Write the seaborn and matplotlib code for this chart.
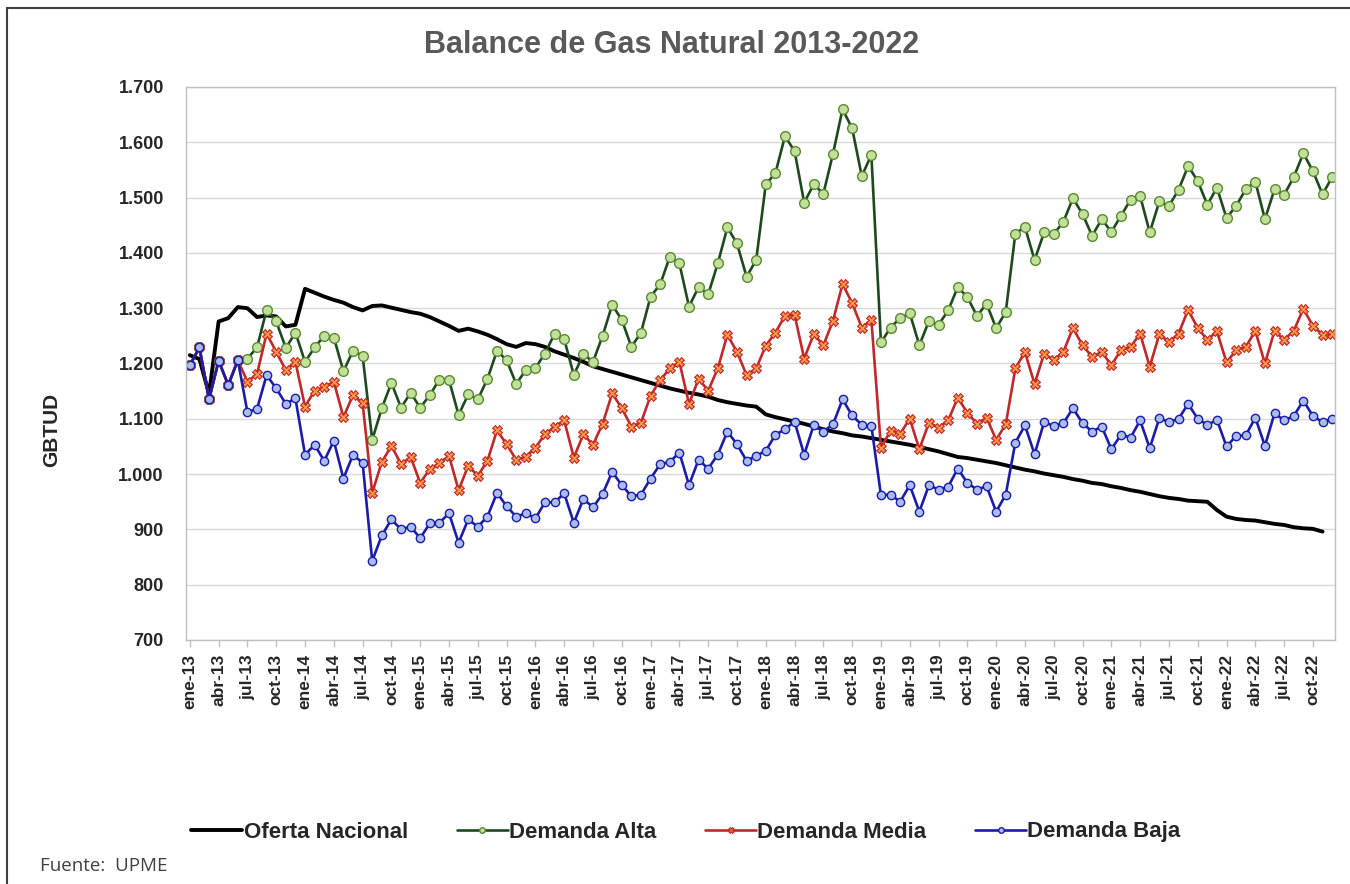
import numpy as np
import pandas as pd
import matplotlib
matplotlib.use("Agg")
import matplotlib.pyplot as plt
import matplotlib.ticker as mticker
from matplotlib.patches import Rectangle
import seaborn as sns

# monthly series, ene-13 .. dic-22 (GBTUD)
oferta_nacional = [
    1215, 1208, 1145, 1276, 1282, 1302, 1300, 1284, 1287, 1285, 1267, 1270,
    1335, 1328, 1321, 1315, 1310, 1302, 1296, 1304, 1305, 1301, 1297, 1293,
    1290, 1284, 1276, 1268, 1259, 1263, 1258, 1252, 1244, 1235, 1230, 1237,
    1235, 1230, 1222, 1216, 1210, 1203, 1195, 1190, 1185, 1180, 1175, 1170,
    1165, 1160, 1155, 1151, 1147, 1144, 1140, 1134, 1130, 1127, 1124, 1122,
    1108, 1103, 1099, 1095, 1091, 1086, 1081, 1077, 1074, 1070, 1068, 1065,
    1062, 1059, 1056, 1053, 1049, 1045, 1041, 1036, 1031, 1029, 1026, 1023,
    1020, 1016, 1012, 1008, 1005, 1001, 998, 995, 991, 988, 984, 982,
    978, 975, 971, 968, 964, 960, 957, 955, 952, 951, 950, 935,
    923, 919, 917, 916, 913, 910, 908, 904, 902, 901, 896, np.nan,
]
demanda_alta = [
    1197, 1229, 1135, 1205, 1161, 1206, 1209, 1229, 1297, 1276, 1228, 1256,
    1203, 1229, 1250, 1247, 1186, 1223, 1214, 1062, 1119, 1165, 1120, 1147,
    1120, 1143, 1171, 1170, 1107, 1144, 1135, 1172, 1223, 1206, 1163, 1188,
    1192, 1218, 1254, 1244, 1179, 1217, 1203, 1250, 1306, 1279, 1230, 1256,
    1321, 1343, 1393, 1381, 1303, 1338, 1325, 1381, 1446, 1417, 1357, 1387,
    1524, 1544, 1611, 1584, 1491, 1524, 1507, 1579, 1660, 1625, 1539, 1577,
    1238, 1265, 1282, 1291, 1233, 1277, 1270, 1296, 1338, 1320, 1286, 1308,
    1264, 1293, 1435, 1447, 1387, 1437, 1434, 1456, 1499, 1470, 1431, 1461,
    1438, 1467, 1496, 1503, 1437, 1493, 1485, 1514, 1557, 1530, 1487, 1518,
    1463, 1485, 1515, 1529, 1461, 1515, 1505, 1537, 1580, 1548, 1506, 1537,
]
demanda_media = [
    1197, 1229, 1135, 1205, 1161, 1206, 1167, 1181, 1254, 1221, 1188, 1203,
    1122, 1151, 1157, 1167, 1103, 1143, 1128, 966, 1022, 1051, 1018, 1031,
    984, 1009, 1020, 1033, 971, 1015, 997, 1024, 1079, 1054, 1026, 1031,
    1048, 1072, 1086, 1097, 1030, 1072, 1053, 1091, 1146, 1119, 1086, 1093,
    1142, 1170, 1191, 1203, 1127, 1172, 1151, 1191, 1252, 1221, 1179, 1191,
    1232, 1256, 1286, 1288, 1209, 1253, 1233, 1277, 1344, 1309, 1265, 1279,
    1048, 1078, 1073, 1100, 1045, 1093, 1084, 1097, 1138, 1111, 1091, 1102,
    1062, 1090, 1191, 1221, 1163, 1218, 1206, 1221, 1264, 1233, 1212, 1221,
    1197, 1224, 1230, 1254, 1194, 1253, 1239, 1254, 1297, 1264, 1243, 1258,
    1202, 1224, 1230, 1259, 1200, 1259, 1243, 1259, 1299, 1268, 1252, 1253,
]
demanda_baja = [
    1197, 1229, 1135, 1205, 1161, 1206, 1112, 1118, 1179, 1155, 1127, 1137,
    1035, 1053, 1024, 1060, 992, 1035, 1020, 843, 889, 918, 900, 905,
    884, 911, 912, 929, 876, 918, 905, 923, 966, 942, 923, 929,
    920, 949, 949, 965, 912, 955, 940, 964, 1004, 980, 960, 963,
    992, 1018, 1022, 1039, 980, 1026, 1010, 1035, 1077, 1054, 1024, 1033,
    1042, 1071, 1081, 1095, 1035, 1089, 1077, 1090, 1135, 1106, 1089, 1087,
    962, 963, 950, 980, 932, 980, 972, 977, 1010, 984, 972, 978,
    932, 963, 1057, 1088, 1036, 1094, 1087, 1092, 1119, 1092, 1077, 1086,
    1045, 1071, 1066, 1097, 1047, 1101, 1094, 1100, 1127, 1100, 1089, 1098,
    1050, 1069, 1070, 1102, 1051, 1110, 1097, 1105, 1133, 1105, 1094, 1100,
]
tick_labels = [
    "ene-13", "abr-13", "jul-13", "oct-13", "ene-14", "abr-14", "jul-14", "oct-14",
    "ene-15", "abr-15", "jul-15", "oct-15", "ene-16", "abr-16", "jul-16", "oct-16",
    "ene-17", "abr-17", "jul-17", "oct-17", "ene-18", "abr-18", "jul-18", "oct-18",
    "ene-19", "abr-19", "jul-19", "oct-19", "ene-20", "abr-20", "jul-20", "oct-20",
    "ene-21", "abr-21", "jul-21", "oct-21", "ene-22", "abr-22", "jul-22", "oct-22",
]

mes = np.arange(len(demanda_alta))

sns.set_style("white")
plt.rcParams["font.family"] = ["Liberation Sans", "DejaVu Sans"]

fig = plt.figure(figsize=(13.5, 8.84), dpi=100)
W, H = 1350, 884
ax = fig.add_axes([186 / W, 1 - 640 / H, (1335 - 186) / W, (640 - 87) / H])

series = [
    ("Oferta Nacional", oferta_nacional,
     dict(color="black", lw=2.8, marker=None)),
    ("Demanda Alta", demanda_alta,
     dict(color="#1d4a1d", lw=1.9, marker="o", ms=7, mfc="#c2e09a", mec="#5a8a30", mew=1.0)),
    ("Demanda Media", demanda_media,
     dict(color="#c0282a", lw=1.9, marker="X", ms=7, mfc="#f79646", mec="#c0282a", mew=0.8)),
    ("Demanda Baja", demanda_baja,
     dict(color="#1c1ca8", lw=1.9, marker="o", ms=6, mfc="#a8bde8", mec="#1c1ca8", mew=1.0)),
]

for name, vals, st in series:
    df = pd.DataFrame({"mes": mes, "valor": vals}).dropna()
    kw = dict(linewidth=st["lw"], color=st["color"])
    if st["marker"]:
        kw.update(marker=st["marker"], markersize=st["ms"], markerfacecolor=st["mfc"],
                  markeredgecolor=st["mec"], markeredgewidth=st["mew"])
    sns.lineplot(data=df, x="mes", y="valor", ax=ax, label=name, **kw)

ax.set_xlim(-0.4, 119.3)
ax.set_ylim(700, 1700)
ax.set_yticks(np.arange(700, 1701, 100))
ax.yaxis.set_major_formatter(mticker.FuncFormatter(lambda v, p: f"{int(v):,}".replace(",", ".")))
ax.set_xticks(np.arange(0, 120, 3))
ax.set_xticklabels(tick_labels, rotation=90, fontsize=12.5, fontweight="bold")
for lab in ax.get_yticklabels():
    lab.set_fontweight("bold")
ax.tick_params(axis="y", length=0, pad=16, labelsize=13)
ax.tick_params(axis="x", length=5, width=1, color="#bfbfbf", pad=5, bottom=True)
ax.grid(axis="y", color="#d9d9d9", lw=1)
ax.set_xlabel("")
ax.set_ylabel("")
for s in ax.spines.values():
    s.set_color("#bfbfbf")
    s.set_linewidth(1)
ax.get_legend().remove()

fig.text(672 / W, 1 - 45 / H, "Balance de Gas Natural 2013-2022", ha="center", va="center",
         fontsize=22, fontweight="bold", color="#595959")
fig.text(52 / W, 1 - 430 / H, "GBTUD", rotation=90, ha="center", va="center",
         fontsize=15, fontweight="bold")

handles, labels = ax.get_legend_handles_labels()
leg = fig.legend(handles, labels, loc="center", bbox_to_anchor=(686 / W, 1 - 832 / H), ncol=4,
                 frameon=False, handlelength=2.3, handletextpad=0.05, columnspacing=2.2,
                 prop={"weight": "bold", "size": 16})
for h in leg.legend_handles:
    h.set_markersize(4)

fig.text(40 / W, 1 - 866 / H, "Fuente:  UPME", ha="left", va="center", fontsize=13.5,
         color="#404040", family=["Open Sans", "DejaVu Sans"])

fig.patches.append(Rectangle((7 / W, -0.1), 2, 1 - 8 / H + 0.1, transform=fig.transFigure,
                             fill=False, edgecolor="#404040", lw=1.5, clip_on=False))

fig.savefig("out.png", dpi=100)
